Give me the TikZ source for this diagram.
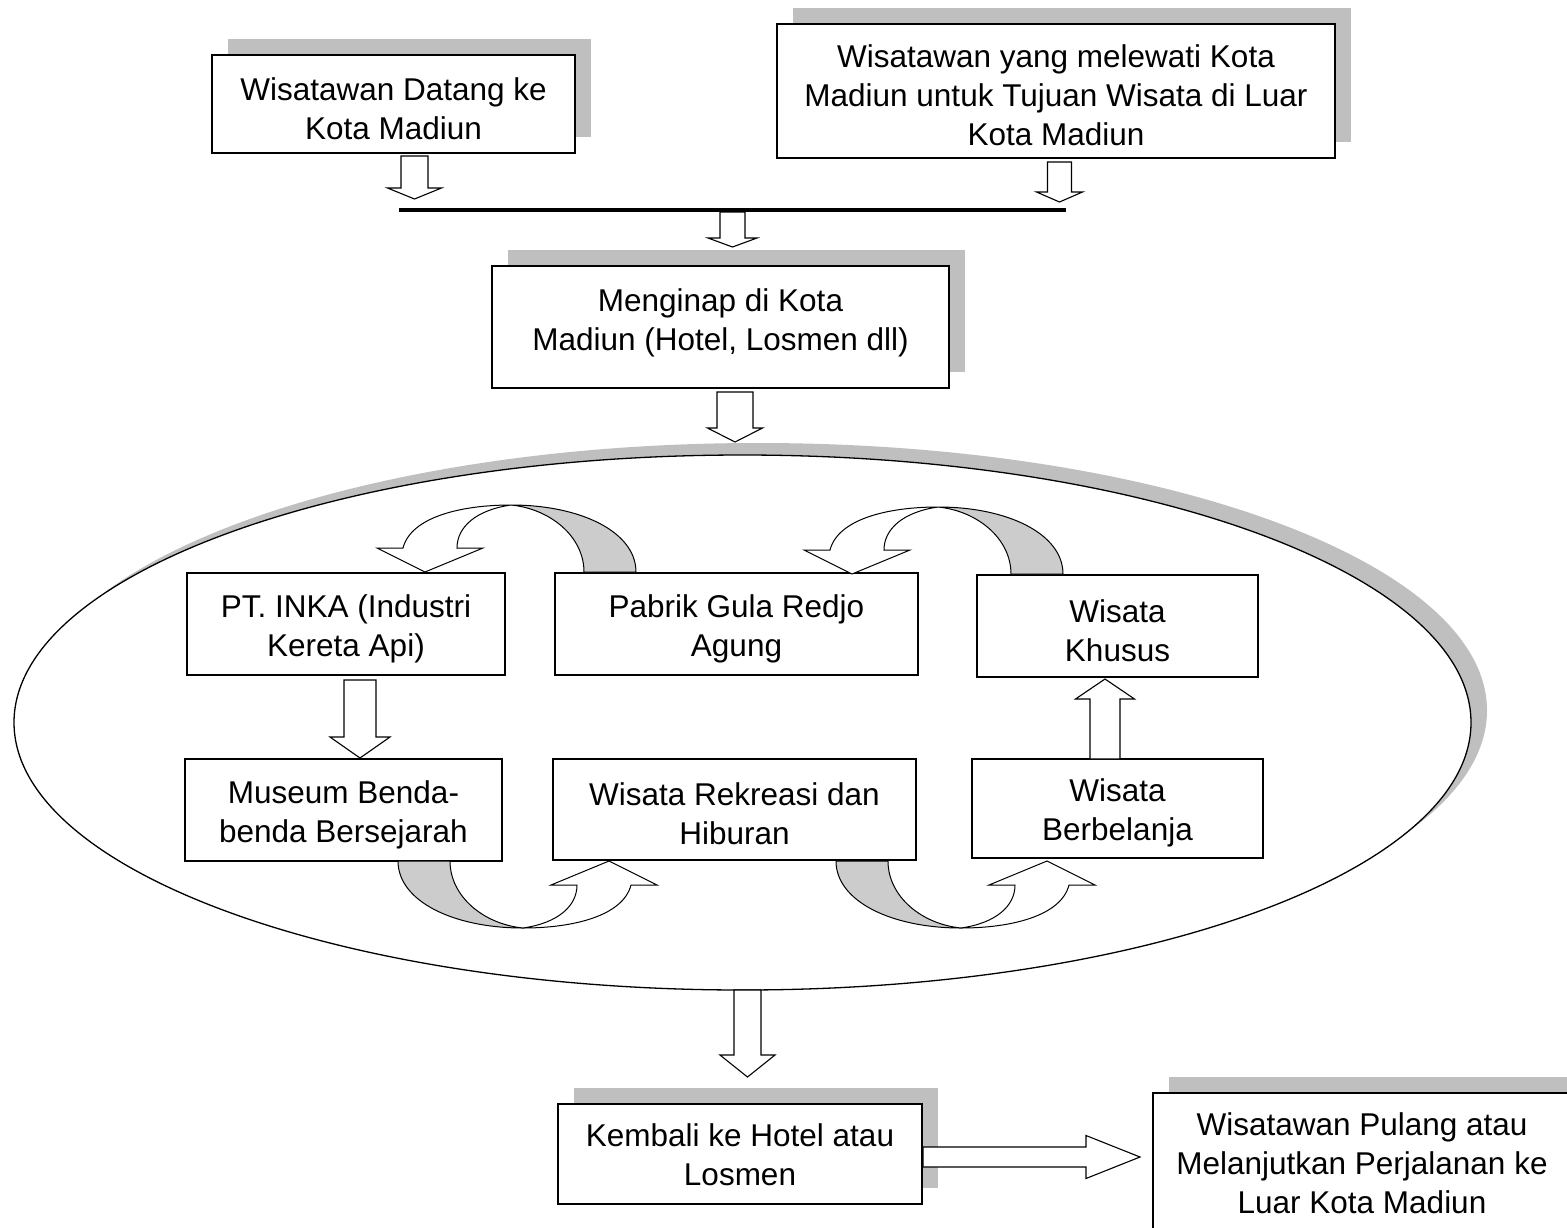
\documentclass[tikz,border=0pt]{standalone}
\usepackage{fontspec}
\setmainfont{Liberation Sans}
\usetikzlibrary{shapes.geometric,shadows}
\newcommand{\fs}{\fontsize{31.5}{39}\selectfont}
\newcommand{\ft}{\rule{0pt}{32pt}}
\newcommand{\fu}{\rule{0pt}{24pt}}
% straight block arrow: #1 start, #2 angle, #3 length, #4 shaft half width, #5 head half width, #6 head length
\newcommand{\blockarrow}[6]{%
  \draw[blk, shift={#1}, rotate=#2] (0,-#4) -- ({#3-#6},-#4) -- ({#3-#6},-#5) -- (#3,0)
     -- ({#3-#6},#5) -- ({#3-#6},#4) -- (0,#4) -- cycle;}
% curved block arrow (Word style): #1 origin (outer foot of grey band), #2 rotation
\newcommand{\curvarrow}[2]{%
  \begin{scope}[shift={#1}, rotate=#2]
    \draw[curv, fill=black!20] (-125,-67) .. controls (-55,-67) and (0,-40) .. (0,0)
       -- (-52,0) .. controls (-52,-35) and (-85,-63) .. (-125,-67) -- cycle;
    \draw[curv, fill=white] (-233,-24) .. controls (-225,-55) and (-175,-67) .. (-125,-67)
       .. controls (-160,-62) and (-179,-45) .. (-179,-24) -- (-153,-24) -- (-211,0)
       -- (-259,-24) -- cycle;
  \end{scope}}
\begin{document}
\begin{tikzpicture}[x=1pt,y=-1pt,
  txt/.style={font=\fs, align=center, inner sep=0pt},
  box/.style={txt, draw, line width=1.3pt, fill=white},
  shbox/.style={box, drop shadow={shadow xshift=16pt, shadow yshift=16pt, fill=black!25, opacity=1}},
  blk/.style={draw, fill=white, line width=1.1pt, line join=miter},
  curv/.style={draw, line width=1pt, line join=miter}]
\fill[white] (0,0) rectangle (1567,1227);
\useasboundingbox (0,0) rectangle (1567,1227);

% top boxes
\node[shbox, minimum width=363pt, minimum height=98pt] (b1) at (393.5,104) {\ft Wisatawan Datang ke\\Kota Madiun};
\node[shbox, minimum width=558pt, minimum height=134pt] (b2) at (1056,91) {\ft Wisatawan yang melewati Kota\\Madiun untuk Tujuan Wisata di Luar\\Kota Madiun};

% joining bar
\coordinate (jl) at (399,210);
\coordinate (jr) at (1066,210);
\draw[line width=4pt] (jl) -- (jr);

\blockarrow{(414.5,156)}{-90}{43}{13.5}{27}{11}
\blockarrow{(1059.5,162)}{-90}{40}{12}{23}{10}
\blockarrow{(732.5,212)}{-90}{35}{12.5}{24.5}{9}

% lodging
\node[shbox, minimum width=457pt, minimum height=122pt] (b3) at (720.5,327) {};
\node[txt] (t3) at (720.5,318) {\ft Menginap di Kota\\Madiun (Hotel, Losmen dll)};
\blockarrow{(735,392)}{-90}{50}{18}{27.5}{14}

% big ellipse
\node[draw, ellipse, line width=1.3pt, fill=white, minimum width=1457pt, minimum height=535pt, inner sep=0pt,
      drop shadow={shadow xshift=16pt, shadow yshift=12pt, fill=black!25, opacity=1}] (ell) at (742.5,722.5) {};

% inner boxes
\node[box, minimum width=318pt, minimum height=102pt] (inka) at (346,624) {\ft PT. INKA (Industri\\Kereta Api)};
\node[box, minimum width=363pt, minimum height=102pt] (pabrik) at (736.5,624) {\ft Pabrik Gula Redjo\\Agung};
\node[box, minimum width=281pt, minimum height=102pt] (khusus) at (1117.5,626) {\ft Wisata\\Khusus};
\node[box, minimum width=317pt, minimum height=102pt] (museum) at (343.5,810) {\ft Museum Benda-\\benda Bersejarah};
\node[box, minimum width=363pt, minimum height=101pt] (rekreasi) at (734.5,809.5) {\ft Wisata Rekreasi dan\\Hiburan};
\node[box, minimum width=291pt, minimum height=99pt] (belanja) at (1117.5,808.5) {\ft Wisata\\Berbelanja};

\blockarrow{(360,680)}{-90}{78}{16}{30}{21}
\blockarrow{(1105,759)}{90}{80}{15}{29.5}{20}

\curvarrow{(636,572)}{0}
\curvarrow{(1063,574)}{0}
\curvarrow{(398,861)}{180}
\curvarrow{(836,861)}{180}

% bottom
\blockarrow{(747.5,990)}{-90}{87}{13.5}{27.5}{22}
\node[shbox, minimum width=364pt, minimum height=100pt] (kembali) at (740,1154) {\fu Kembali ke Hotel atau\\Losmen};
\node[shbox, minimum width=418pt, minimum height=140pt] (pulang) at (1362,1163) {\fu Wisatawan Pulang atau\\Melanjutkan Perjalanan ke\\Luar Kota Madiun};
\blockarrow{(923,1157)}{0}{217}{10}{21.5}{54}
\end{tikzpicture}
\end{document}
